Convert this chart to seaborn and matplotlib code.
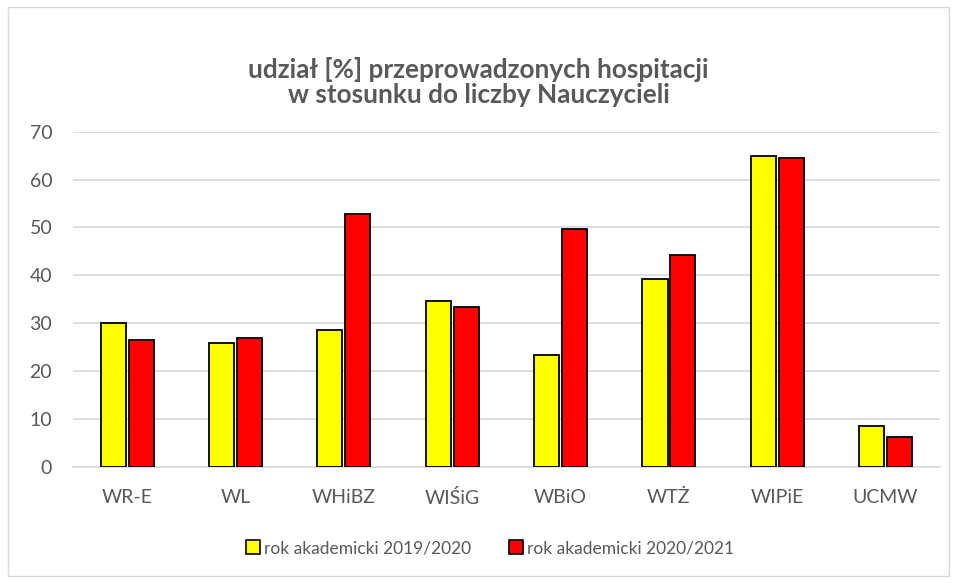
import matplotlib
matplotlib.use("Agg")
import matplotlib.pyplot as plt
import seaborn as sns
import pandas as pd
from matplotlib.patches import Rectangle, Patch

categories = ["WR-E", "WL", "WHiBZ", "WIŚiG", "WBiO", "WTŻ", "WIPiE", "UCMW"]
series_names = ["rok akademicki 2019/2020", "rok akademicki 2020/2021"]
values_2019 = [30.0, 25.9, 28.6, 34.6, 23.3, 39.2, 65.0, 8.4]
values_2020 = [26.5, 26.9, 52.9, 33.3, 49.6, 44.2, 64.6, 6.1]
yticks = [0, 10, 20, 30, 40, 50, 60, 70]
title_lines = ["udział [%] przeprowadzonych hospitacji",
               "w stosunku do liczby Nauczycieli"]

df = pd.DataFrame({
    "kat": categories * 2,
    "seria": [series_names[0]] * len(categories) + [series_names[1]] * len(categories),
    "val": values_2019 + values_2020,
})

sns.set_theme(style="white")
plt.rcParams["font.family"] = ["Lato", "DejaVu Sans"]
gray = "#595959"

fig = plt.figure(figsize=(9.57, 5.83), dpi=100)
ax = fig.add_axes([0.0763, 0.1995, 0.9057, 0.5746])

sns.barplot(data=df, x="kat", y="val", hue="seria", order=categories,
            hue_order=series_names, palette=["#FFFF00", "#FF0000"],
            width=0.515, gap=0.1, edgecolor="black", linewidth=1.3,
            saturation=1, legend=False, ax=ax, zorder=3)

ax.set_ylim(0, 70)
ax.set_yticks(yticks)
ax.set_xlim(-0.5, len(categories) - 0.5)
ax.yaxis.grid(True, color="#d9d9d9", linewidth=1.2, zorder=0)
ax.set_axisbelow(True)
for s in ["top", "right", "left"]:
    ax.spines[s].set_visible(False)
ax.spines["bottom"].set_color("#d9d9d9")
ax.spines["bottom"].set_linewidth(1.2)
ax.tick_params(axis="both", length=0, colors=gray, labelsize=14)
ax.tick_params(axis="x", pad=16)
ax.tick_params(axis="y", pad=15)
ax.set_xlabel("")
ax.set_ylabel("")

fig.text(0.5, 1 - 70 / 583, title_lines[0], ha="center", va="center",
         fontsize=18.8, fontweight="bold", color=gray)
fig.text(0.5, 1 - 95 / 583, title_lines[1], ha="center", va="center",
         fontsize=18.8, fontweight="bold", color=gray)

handles = [Patch(facecolor="#FFFF00", edgecolor="black", linewidth=1.2),
           Patch(facecolor="#FF0000", edgecolor="black", linewidth=1.2)]
fig.legend(handles, series_names, loc="center", bbox_to_anchor=(0.512, 0.06),
           ncol=2, frameon=False, fontsize=12.5, labelcolor=gray,
           handlelength=0.8, handleheight=0.8, handletextpad=0.2,
           columnspacing=2.2)

fig.patches.append(Rectangle((0.008, 0.012), 0.984, 0.976,
                             transform=fig.transFigure, fill=False,
                             edgecolor="#d9d9d9", linewidth=1))

fig.savefig("out.png", dpi=100)
